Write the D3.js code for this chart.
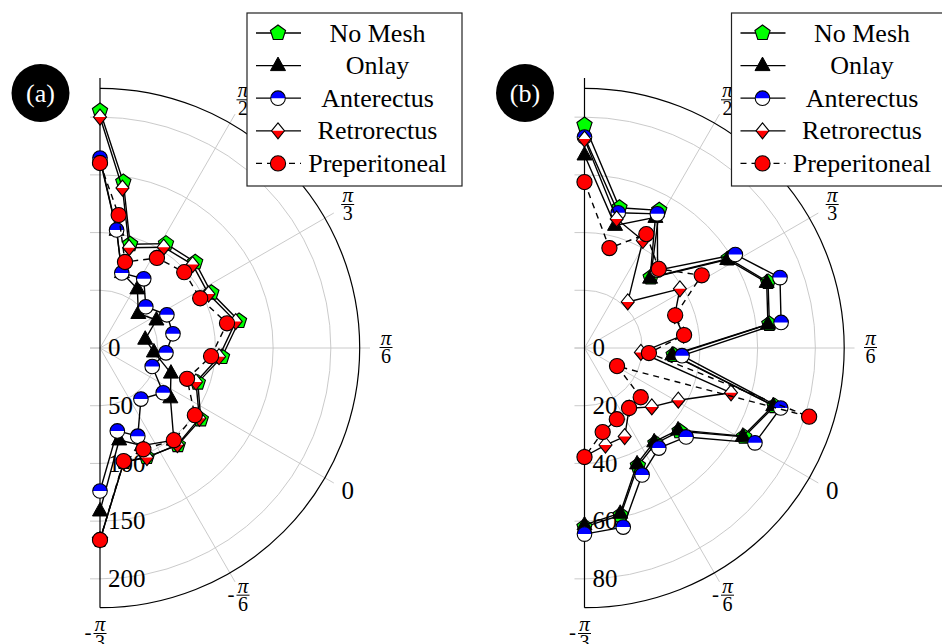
<!DOCTYPE html>
<html>
<head>
<meta charset="utf-8">
<script src="https://cdnjs.cloudflare.com/ajax/libs/d3/7.8.5/d3.min.js"></script>
<style>
  body { margin: 0; background: #fff; }
  svg { display: block; font-family: "Liberation Serif", "Times New Roman", serif; }
</style>
</head>
<body>
<svg id="chart" width="942" height="644"></svg>
<script>
// angles in degrees (the "pi/6" spoke is 30), radii in each panel's units
var thetaA = [120, 112, 103.8, 87.7, 72, 56.4, 41, 25.8, 10.5, -5.3, -21.3, -36.8, -48.2, -60];
var noMeshA = [205.3, 145.2, 93.6, 107.0, 111.0, 107.7, 122.7, 106.0, 89.9, 107.0, 107.8, 102.8, 100.9, 166.3];
var onlayA = [163, 103, 68, 60.6, 44.7, 54.6, 39.9, 46.8, 65.2, 74.7, 102.3, 92, 81.4, 141.2];
var anteA = [164.6, 103.3, 67.7, 70.9, 53.4, 64.7, 64.4, 57.3, 48.0, 67.1, 56.7, 83.1, 73.4, 123.9];
var retroA = [200.1, 139.9, 90.5, 103.3, 108.0, 105.0, 119.8, 103.4, 88.2, 105.5, 107.3, 103.3, 100.9, 166.3];
var preA = [160.3, 116.3, 77.6, 92.3, 98.2, 96.9, 112.1, 96.5, 80.0, 100.7, 102.3, 95.5, 100.1, 166.3];

var thetaB = [120, 106, 91.5, 76.8, 61.8, 49.8, 37.4, 25.5, 13, 0.9, -11.2, -23.4, -35.6, -47.8, -60];
var noMeshB = [77.3, 50.1, 54.3, 33.5, 58.8, 67.6, 64.6, 31.0, 68.9, 63.3, 43.8, 41.2, 44.8, 59.3, 62.0];
var onlayB = [66.9, 43.8, 51.5, 33.2, 58.2, 67.1, 64.1, 30.5, 68.4, 62.8, 43.1, 40.5, 44.1, 58.6, 61.3];
var anteB = [73.1, 48.3, 52.9, 37.0, 61.5, 72.0, 68.7, 33.9, 71.1, 67.6, 46.8, 43.2, 48.3, 63.5, 64.5];
var retroB = [72.4, 46.1, 42.4, 21.9, 38.9, 33.2, 34.6, 19.6, 53.1, 37.2, 31.0, 26.0, 33.7, 34.4, 37.6];
var preB = [57.5, 35.7, 44.9, 37.6, 47.8, 33.4, 34.8, 22.4, 81.4, 12.9, 25.9, 25.9, 27.1, 29.8, 37.8];

var seriesNames = ["No Mesh", "Onlay", "Anterectus", "Retrorectus", "Preperitoneal"];
var markerTypes = ["pentagon", "triangle", "halfcircle", "halfdiamond", "circle"];

var angleTickVals = [90, 60, 30, 0, -30, -60];
var angleTickLabels = ["π/2", "π/3", "π/6", "0", "-π/6", "-π/3"];
var radialTicksA = [0, 50, 100, 150, 200];
var radialTicksB = [0, 20, 40, 60, 80];
var rMaxA = 225, rMaxB = 90;

var svg = d3.select("#chart");
var GRID = "#c4c4c4";

function drawMarker(g, type, x, y) {
  var m = g.append("g").attr("transform", "translate(" + x + "," + y + ")");
  if (type == "pentagon") {
    var pts = d3.range(5).map(function(k) {
      var an = -Math.PI / 2 + k * 2 * Math.PI / 5;
      return [8 * Math.cos(an), 8 * Math.sin(an)];
    });
    m.append("polygon").attr("points", pts.join(" "))
      .attr("fill", "#00ff00").attr("stroke", "#000").attr("stroke-width", 1.1);
  } else if (type == "triangle") {
    m.append("polygon").attr("points", "0,-8.5 7.5,5 -7.5,5")
      .attr("fill", "#000").attr("stroke", "#000").attr("stroke-width", 1);
  } else if (type == "halfcircle") {
    m.append("circle").attr("r", 7.3).attr("fill", "#fff");
    m.append("path").attr("d", "M-7.3,0 A7.3,7.3 0 0 1 7.3,0 Z").attr("fill", "#0000ff");
    m.append("circle").attr("r", 7.3).attr("fill", "none").attr("stroke", "#000").attr("stroke-width", 1.1);
  } else if (type == "halfdiamond") {
    m.append("path").attr("d", "M0,-8 L6.5,0 L0,8 L-6.5,0 Z").attr("fill", "#fff");
    m.append("path").attr("d", "M-6.5,0 L6.5,0 L0,8 Z").attr("fill", "#ff0000");
    m.append("path").attr("d", "M0,-8 L6.5,0 L0,8 L-6.5,0 Z")
      .attr("fill", "none").attr("stroke", "#000").attr("stroke-width", 1.1);
  } else {
    m.append("circle").attr("r", 7.6).attr("fill", "#ff0000")
      .attr("stroke", "#000").attr("stroke-width", 1.1);
  }
}

function drawPanel(cx, cy, rMax, rTicks, theta, seriesVals, tag) {
  var R = 259.7;
  var g = svg.append("g").attr("transform", "translate(" + cx + "," + cy + ")");
  var r = d3.scaleLinear().domain([0, rMax]).range([0, R]);
  // d3 radial angle: clockwise from 12 o'clock
  var a = d3.scaleLinear().domain([120, -60]).range([0, Math.PI]);

  // grid arcs
  rTicks.filter(function(t) { return t > 0; }).forEach(function(t) {
    var p = d3.path();
    p.moveTo(0, -r(t));
    p.arc(0, 0, r(t), -Math.PI / 2, Math.PI / 2);
    g.append("path").attr("d", p.toString()).attr("fill", "none")
      .attr("stroke", GRID).attr("stroke-width", 0.9);
  });
  // spokes
  angleTickVals.forEach(function(t) {
    if (t == -60) return;
    var pt = d3.pointRadial(a(t), 270);
    g.append("line").attr("x1", 0).attr("y1", 0).attr("x2", pt[0]).attr("y2", pt[1])
      .attr("stroke", GRID).attr("stroke-width", 0.9);
  });
  // radial tick marks
  rTicks.forEach(function(t) {
    [-1, 1].forEach(function(s) {
      g.append("line").attr("x1", -10).attr("x2", 0)
        .attr("y1", s * r(t)).attr("y2", s * r(t))
        .attr("stroke", GRID).attr("stroke-width", 0.9);
    });
  });
  // outer arc + axis
  var po = d3.path();
  po.moveTo(0, -R);
  po.arc(0, 0, R, -Math.PI / 2, Math.PI / 2);
  g.append("path").attr("d", po.toString()).attr("fill", "none")
    .attr("stroke", "#000").attr("stroke-width", 1.2);
  g.append("line").attr("x1", 0).attr("x2", 0).attr("y1", -270).attr("y2", R)
    .attr("stroke", "#000").attr("stroke-width", 1.2);

  // radial labels
  rTicks.forEach(function(t) {
    g.append("text").attr("x", 8).attr("y", r(t)).attr("dy", "0.33em")
      .attr("font-size", 25).attr("fill", "#000").text(t);
  });

  // angle labels
  angleTickVals.forEach(function(t, i) {
    var pt = d3.pointRadial(a(t), 286);
    var lab = angleTickLabels[i];
    if (lab.indexOf("/") < 0) {
      g.append("text").attr("x", pt[0]).attr("y", pt[1]).attr("dy", "0.33em")
        .attr("text-anchor", "middle").attr("font-size", 25).text(lab);
      return;
    }
    var neg = lab.charAt(0) == "-";
    var parts = lab.replace("-", "").split("/");
    var lg = g.append("g").attr("transform", "translate(" + pt[0] + "," + pt[1] + ")");
    lg.append("text").attr("x", 0).attr("y", -3).attr("text-anchor", "middle")
      .attr("font-size", 21).attr("font-style", "italic").text(parts[0]);
    lg.append("line").attr("x1", -6.5).attr("x2", 6.5).attr("y1", -0.5).attr("y2", -0.5)
      .attr("stroke", "#000").attr("stroke-width", 1);
    lg.append("text").attr("x", 0).attr("y", 15).attr("text-anchor", "middle")
      .attr("font-size", 20).text(parts[1]);
    if (neg) {
      lg.append("text").attr("x", -12).attr("y", 5).attr("text-anchor", "middle")
        .attr("font-size", 21).text("-");
    }
  });

  // series: line then markers, in legend order
  seriesVals.forEach(function(vals, si) {
    var pts = vals.map(function(v, i) { return { t: theta[i], v: v }; });
    var line = d3.lineRadial()
      .angle(function(d) { return a(d.t); })
      .radius(function(d) { return r(d.v); });
    g.append("path").attr("d", line(pts)).attr("fill", "none")
      .attr("stroke", "#000").attr("stroke-width", 1.4)
      .attr("stroke-dasharray", si == 4 ? "6,5" : null);
    pts.forEach(function(d) {
      var p = d3.pointRadial(a(d.t), r(d.v));
      drawMarker(g, markerTypes[si], p[0], p[1]);
    });
  });

  // panel tag
  g.append("circle").attr("cx", -59.5).attr("cy", -255).attr("r", 29).attr("fill", "#000");
  g.append("text").attr("x", -59.5).attr("y", -255).attr("dy", "0.33em")
    .attr("text-anchor", "middle").attr("font-size", 26).attr("fill", "#fff").text(tag);

  // legend
  var lg = g.append("g").attr("transform", "translate(147,-335)");
  lg.append("rect").attr("x", 0).attr("y", 0).attr("width", 215).attr("height", 173)
    .attr("fill", "#fff").attr("stroke", "#222").attr("stroke-width", 1.2);
  seriesNames.forEach(function(name, si) {
    var y = 20 + si * 32.6;
    lg.append("line").attr("x1", 9).attr("x2", 54).attr("y1", y).attr("y2", y)
      .attr("stroke", "#000").attr("stroke-width", 1.3)
      .attr("stroke-dasharray", si == 4 ? "6,5" : null);
    drawMarker(lg, markerTypes[si], 31, y);
    lg.append("text").attr("x", 130.5).attr("y", y + 8.5).attr("text-anchor", "middle")
      .attr("font-size", 26).text(name);
  });
}

drawPanel(100, 348, rMaxA, radialTicksA, thetaA, [noMeshA, onlayA, anteA, retroA, preA], "(a)");
drawPanel(584.5, 348, rMaxB, radialTicksB, thetaB, [noMeshB, onlayB, anteB, retroB, preB], "(b)");
</script>
</body>
</html>
